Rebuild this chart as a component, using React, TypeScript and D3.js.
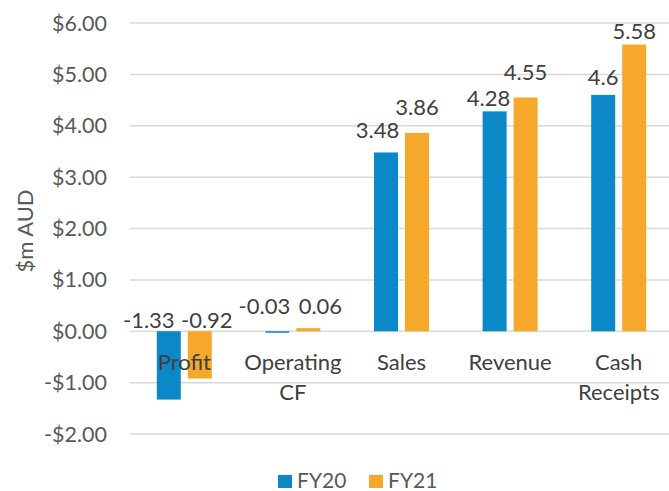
import React from "react";
import * as d3 from "d3";

const categories: string[][] = [["Profit"], ["Operating", "CF"], ["Sales"], ["Revenue"], ["Cash", "Receipts"]];
const seriesNames = ["FY20", "FY21"];
const fy20 = [-1.33, -0.03, 3.48, 4.28, 4.6];
const fy21 = [-0.92, 0.06, 3.86, 4.55, 5.58];
const fy20Labels = ["-1.33", "-0.03", "3.48", "4.28", "4.6"];
const fy21Labels = ["-0.92", "0.06", "3.86", "4.55", "5.58"];
const yTicks = [-2, -1, 0, 1, 2, 3, 4, 5, 6];

// label placement nudges (layout only, px) mimicking the reference's collision avoidance
const labelDx = [[-20, -13, -8.5, -6, 0], [7, 12, 0, 0, 0]];
const labelDy = [[-11, -25, -22, -13, -18], [-11, -22, -26, -25, -13]];

const W = 669, H = 491;
const left = 130, right = 673, top = 23, bottom = 434;
const colors = ["#0A88C8", "#F5A82A"];
const font = "Lato, 'Open Sans', sans-serif";

export default function App() {
  const y = d3.scaleLinear().domain([-2, 6]).range([bottom, top]);
  const x0 = d3.scaleBand<number>().domain(d3.range(categories.length)).range([left, right]).paddingInner(0).paddingOuter(0);
  const barW = 24, gap = 7;
  const series = [fy20, fy21];
  const labels = [fy20Labels, fy21Labels];
  const fmt = (v: number) => (v < 0 ? "-$" : "$") + Math.abs(v).toFixed(2);
  return (
    <svg width={W} height={H} style={{ position: "absolute", left: 0, top: 0, background: "#fff" }} fontFamily={font}>
      {yTicks.map((t) => (
        <g key={t}>
          <line x1={left} x2={right} y1={y(t)} y2={y(t)} stroke="#d9d9d9" strokeWidth={1.5} />
          <text x={107} y={y(t)} dy="0.35em" textAnchor="end" fontSize={21.5} fill="#595959">{fmt(t)}</text>
        </g>
      ))}
      <text transform={`translate(25,231) rotate(-90)`} textAnchor="middle" dy="0.35em" fontSize={22} fill="#595959">$m AUD</text>
      {series.map((s, si) =>
        s.map((v, i) => {
          const cx = x0(i)! + x0.bandwidth() / 2;
          const bx = si === 0 ? cx - gap / 2 - barW : cx + gap / 2;
          const y1 = y(Math.max(0, v)), y2 = y(Math.min(0, v));
          return (
            <g key={`${si}-${i}`}>
              <rect x={bx} y={y1} width={barW} height={Math.max(1.5, y2 - y1)} fill={colors[si]} />
            </g>
          );
        })
      )}
      {categories.map((lines, i) => {
        const cx = x0(i)! + x0.bandwidth() / 2;
        return (
          <text key={i} x={cx} y={y(0) + 31} dy="0.35em" textAnchor="middle" fontSize={22} fill="#404040">
            {lines.map((l, k) => (
              <tspan key={k} x={cx} dy={k === 0 ? "0.35em" : 30}>{l}</tspan>
            ))}
          </text>
        );
      })}
      {series.map((s, si) =>
        s.map((v, i) => {
          const cx = x0(i)! + x0.bandwidth() / 2;
          const bcx = si === 0 ? cx - gap / 2 - barW / 2 : cx + gap / 2 + barW / 2;
          const yy = y(Math.max(0, v)) + labelDy[si][i];
          return (
            <text key={`l${si}-${i}`} x={bcx + labelDx[si][i]} y={yy} dy="0.35em" textAnchor="middle" fontSize={22} fill="#404040">
              {labels[si][i]}
            </text>
          );
        })
      )}
      {seriesNames.map((n, si) => {
        const lx = 278 + si * 91;
        return (
          <g key={n}>
            <rect x={lx} y={475} width={14} height={13} fill={colors[si]} />
            <text x={lx + 19} y={481} dy="0.35em" fontSize={21} fill="#595959">{n}</text>
          </g>
        );
      })}
    </svg>
  );
}
